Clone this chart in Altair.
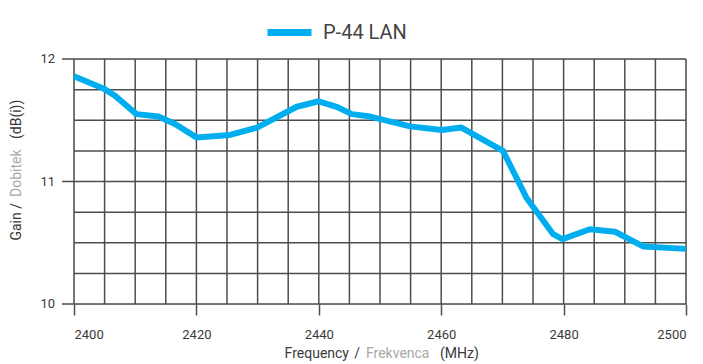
import altair as alt
import pandas as pd

freq = [2400, 2404.8, 2406.7, 2410.2, 2413.8, 2416.5, 2420.0, 2425.5, 2429.9,
        2436.4, 2440.0, 2442.9, 2445.4, 2448.4, 2454.9, 2460.1, 2463.3, 2470.1,
        2473.9, 2478.3, 2479.8, 2484.3, 2488.4, 2493.0, 2500]
gain = [11.86, 11.76, 11.70, 11.55, 11.53, 11.47, 11.36, 11.38, 11.44,
        11.61, 11.655, 11.61, 11.55, 11.53, 11.45, 11.42, 11.44, 11.25,
        10.87, 10.57, 10.53, 10.61, 10.59, 10.47, 10.45]
series = "P-44 LAN"

x_ticks = [2400, 2420, 2440, 2460, 2480, 2500]
y_ticks = [10, 11, 12]
y_labels = ["10", "11", "12"]
x_grid = [2400, 2405, 2410, 2415, 2420, 2425, 2430, 2435, 2440, 2445, 2450,
          2455, 2460, 2465, 2470, 2475, 2480, 2485, 2490, 2495, 2500]
y_grid = [10, 10.25, 10.5, 10.75, 11, 11.25, 11.5, 11.75, 12]

FONT = "Roboto"
GRID = "#4d4d4d"
DARK = "#3a3a3a"
GREY = "#a8a8a8"
BLUE = "#00AEEF"

xscale = alt.Scale(domain=[2400, 2500], nice=False, zero=False)
yscale = alt.Scale(domain=[10, 12], nice=False, zero=False)

xaxis = alt.Axis(values=x_ticks, grid=False, domain=False, title=None,
                 tickSize=11, tickColor=GRID, tickWidth=1.5,
                 labelFont=FONT, labelFontSize=13, labelColor=DARK,
                 labelPadding=13, format="d", labelOverlap=False)

df = pd.DataFrame({"freq": freq, "gain": gain, "series": [series] * len(freq)})

vgrid = alt.Chart(pd.DataFrame({"freq": x_grid})).mark_rule(
    color=GRID, strokeWidth=1.5
).encode(x=alt.X("freq:Q", scale=xscale, axis=xaxis))

hgrid = alt.Chart(pd.DataFrame({"gain": y_grid})).mark_rule(
    color=GRID, strokeWidth=1.5
).encode(y=alt.Y("gain:Q", scale=yscale, axis=None))

# y-axis ticks and labels
ytick = alt.Chart(pd.DataFrame({"gain": y_ticks})).mark_rule(
    color=GRID, strokeWidth=1.5
).encode(y=alt.Y("gain:Q", scale=yscale, axis=None),
         x=alt.value(-12), x2=alt.value(0))

ylab = alt.Chart(pd.DataFrame({"gain": y_ticks, "lab": y_labels})).mark_text(
    font=FONT, fontSize=13, color=DARK, align="right", baseline="middle"
).encode(y=alt.Y("gain:Q", scale=yscale, axis=None),
         x=alt.value(-19), text="lab:N")

line = alt.Chart(df).mark_line(strokeWidth=6, strokeJoin="round", strokeCap="butt").encode(
    x=alt.X("freq:Q", scale=xscale, axis=xaxis),
    y=alt.Y("gain:Q", scale=yscale, axis=None),
    color=alt.Color("series:N",
                    scale=alt.Scale(domain=[series], range=[BLUE]),
                    legend=alt.Legend(title=None, orient="none", legendX=190, legendY=-52,
                                      symbolType="stroke", symbolStrokeWidth=7,
                                      symbolSize=1936, labelFontSize=20,
                                      labelFont=FONT, labelColor="#444444",
                                      labelOffset=8)),
)

def txt(s, x, y, color, align, angle=0):
    return alt.Chart(pd.DataFrame({"t": [s]})).mark_text(
        font=FONT, fontSize=14, color=color, align=align, baseline="middle", angle=angle
    ).encode(text="t:N", x=alt.value(x), y=alt.value(y))

xt0 = txt("Frequency", 275, 295, DARK, "right")
xt1 = txt("/", 286, 295, DARK, "right")
xt2 = txt("Frekvenca", 292, 295, GREY, "left")
xt3 = txt("(MHz)", 366, 295, DARK, "left")

yt1 = txt("Gain /", -57, 144, DARK, "right", 270)
yt2 = txt("Dobitek", -57, 138, GREY, "left", 270)
yt3 = txt("(dB(i))", -57, 80, DARK, "left", 270)

chart = alt.layer(vgrid, hgrid, ytick, ylab, line, xt0, xt1, xt2, xt3, yt1, yt2, yt3).properties(
    width=612, height=245,
    autosize=alt.AutoSizeParams(type="none"),
    padding={"left": 66, "top": 51, "right": 2, "bottom": 58},
).configure_view(stroke=None).configure(background="white")

chart.save("out.html", embed_options={"renderer": "svg", "actions": False})
